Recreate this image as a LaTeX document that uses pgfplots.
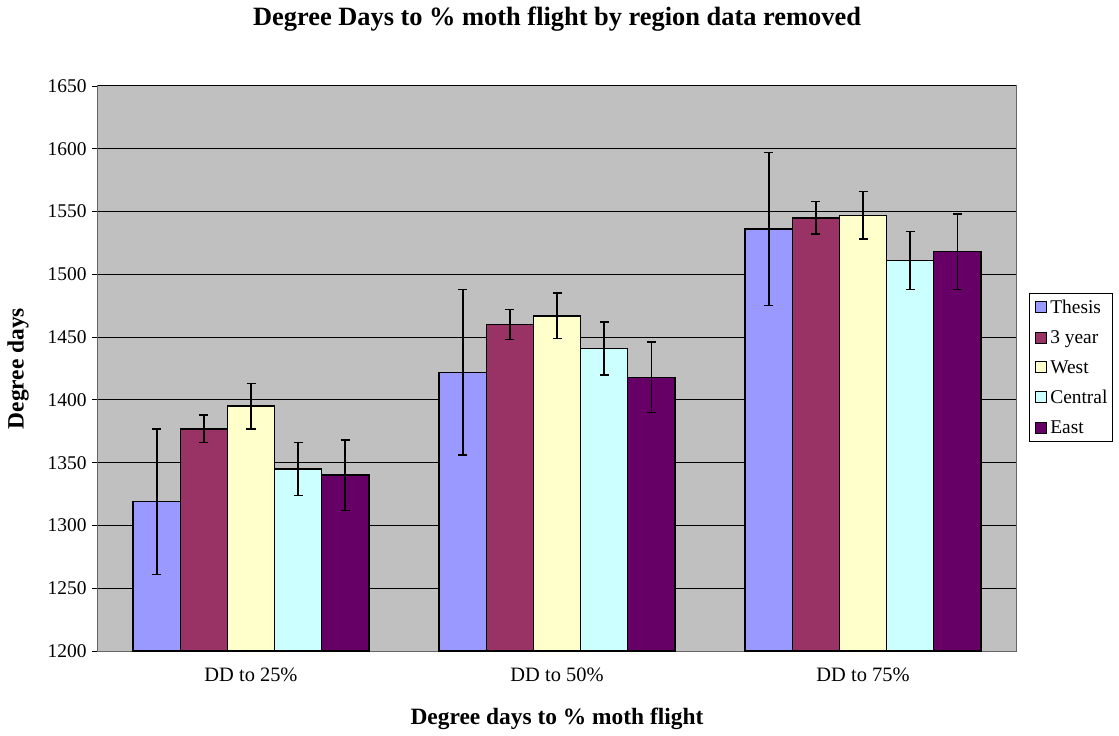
\documentclass[border=0pt]{standalone}
\usepackage{fontspec}
\setmainfont{Liberation Serif}
\usepackage{pgfplots}
\pgfplotsset{compat=1.18}

\definecolor{cThesis}{HTML}{9999FF}
\definecolor{cThree}{HTML}{993366}
\definecolor{cWest}{HTML}{FFFFCC}
\definecolor{cCentral}{HTML}{CCFFFF}
\definecolor{cEast}{HTML}{660066}
\definecolor{plotbg}{HTML}{C0C0C0}

\begin{document}
\begin{tikzpicture}
% page = 1119 x 736 px, plot area 918 x 565 px
\useasboundingbox (-98bp,-85bp) rectangle (1021bp,651bp);
\begin{axis}[
    at={(0,0)}, anchor=south west,
    scale only axis,
    width=918bp, height=565bp,
    clip=false,
    xmin=0.5, xmax=3.5,
    ymin=1200, ymax=1650,
    ytick={1200,1250,...,1650},
    xtick={1,2,3},
    xticklabels={DD to 25\%, DD to 50\%, DD to 75\%},
    major x tick style={draw=none},
    extra x ticks={0.5,1.5,2.5,3.5},
    extra x tick labels={},
    extra x tick style={grid=none, major tick length=6bp},
    tick align=outside,
    tick pos=left,
    major tick length=6bp,
    tick style={black, line width=0.9bp},
    ymajorgrids,
    grid style={black, line width=1bp},
    axis background/.style={fill=plotbg},
    axis line style={draw=black!60, line width=1bp},
    /pgf/number format/assume math mode=true,
    /pgf/number format/1000 sep={},
    ticklabel style={font=\fontsize{19.5}{23}\selectfont},
    xticklabel style={yshift=-7bp, font=\fontsize{20.5}{23}\selectfont},
    yticklabel style={xshift=-2bp},
    ybar=0pt,
    bar width=0.154,
    every axis plot/.append style={draw=black, line width=1.5bp},
    every axis plot post/.append style={
        legend image code/.code={\path (0bp,0bp);
            \draw[#1, line width=1bp] (3bp,-5.5bp) rectangle (14bp,5.5bp);}},
    error bars/error bar style={black, line width=1.5bp},
    error bars/error mark options={rotate=90, black, mark size=4.5bp, line width=1.5bp},
    legend style={
        at={(1.0142,0.6336)}, anchor=north west,
        draw=black, line width=1bp,
        font=\fontsize{19.5}{23}\selectfont,
        inner xsep=2bp, inner ysep=4.5bp, row sep=11.5bp,
        cells={anchor=west},
        nodes={inner xsep=3.5bp},
    },
    legend cell align=left,
]
\addplot[fill=cThesis, error bars/.cd, y dir=both, y explicit] coordinates {
    (1,1319) +- (0,58)
    (2,1422) +- (0,66)
    (3,1536) +- (0,61)
};
\addplot[fill=cThree, error bars/.cd, y dir=both, y explicit] coordinates {
    (1,1377) +- (0,11)
    (2,1460) +- (0,12)
    (3,1545) +- (0,13)
};
\addplot[fill=cWest, error bars/.cd, y dir=both, y explicit] coordinates {
    (1,1395) +- (0,18)
    (2,1467) +- (0,18)
    (3,1547) +- (0,19)
};
\addplot[fill=cCentral, error bars/.cd, y dir=both, y explicit] coordinates {
    (1,1345) +- (0,21)
    (2,1441) +- (0,21)
    (3,1511) +- (0,23)
};
\addplot[fill=cEast, error bars/.cd, y dir=both, y explicit] coordinates {
    (1,1340) +- (0,28)
    (2,1418) +- (0,28)
    (3,1518) +- (0,30)
};
\legend{Thesis, 3 year, West, Central, East}
\draw[black, line width=1bp] (rel axis cs:0,1) -- (rel axis cs:1,1);
\node[font=\fontsize{26.5}{30}\selectfont\bfseries] at ([yshift=67bp]rel axis cs:0.5,1) {Degree Days to \% moth flight by region data removed};
\node[font=\fontsize{23.5}{27}\selectfont\bfseries] at ([yshift=-68bp]rel axis cs:0.5,0) {Degree days to \% moth flight};
\node[font=\fontsize{23.5}{27}\selectfont\bfseries, rotate=90] at ([xshift=-80bp]rel axis cs:0,0.5) {Degree days};
\end{axis}
\end{tikzpicture}
\end{document}
